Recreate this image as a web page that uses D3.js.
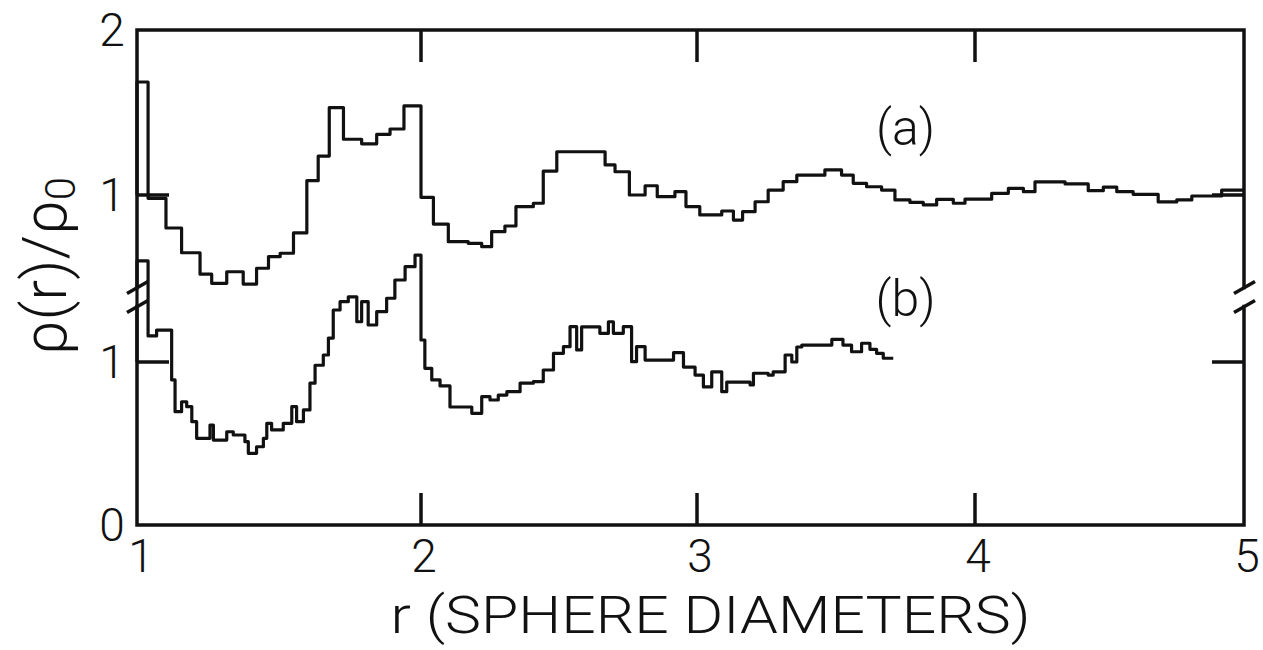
<!DOCTYPE html>
<html>
<head>
<meta charset="utf-8">
<script src="https://cdn.jsdelivr.net/npm/d3@7"></script>
<style>
  html, body { margin: 0; padding: 0; background: #fff; }
  svg { display: block; }
  text { font-family: "Roboto", "DejaVu Sans", sans-serif; font-weight: 300; fill: #111; }
</style>
</head>
<body>
<svg id="chart" width="1263" height="650"></svg>
<script>
// Histogram (a): start of each r bin (sphere diameters) and rho(r)/rho0 in that bin
const rA = [1.0, 1.039, 1.102, 1.157, 1.222, 1.263, 1.316, 1.374, 1.421, 1.463, 1.504, 1.551,
  1.598, 1.638, 1.677, 1.727, 1.791, 1.844, 1.891, 1.940, 2.0, 2.045, 2.099, 2.171, 2.22,
  2.256, 2.304, 2.344, 2.407, 2.443, 2.492, 2.667, 2.703, 2.755, 2.812, 2.856, 2.92, 2.96,
  3.01, 3.089, 3.131, 3.164, 3.209, 3.256, 3.31, 3.359, 3.46, 3.52, 3.562, 3.61, 3.664,
  3.712, 3.766, 3.814, 3.862, 3.922, 3.964, 4.062, 4.124, 4.18, 4.223, 4.335, 4.421, 4.477,
  4.527, 4.588, 4.681, 4.75, 4.806, 4.917];
const gA = [1.685, 0.98, 0.80, 0.65, 0.52, 0.465, 0.535, 0.46, 0.556, 0.626, 0.647, 0.77,
  1.087, 1.236, 1.53, 1.338, 1.31, 1.368, 1.40, 1.54, 0.986, 0.824, 0.717, 0.707, 0.687,
  0.778, 0.812, 0.929, 0.95, 1.145, 1.262, 1.182, 1.141, 1.0, 1.056, 0.99, 1.02, 0.93,
  0.879, 0.903, 0.848, 0.899, 0.959, 1.03, 1.081, 1.12, 1.152, 1.121, 1.071, 1.05, 1.03,
  0.97, 0.955, 0.94, 0.974, 0.95, 0.975, 1.01, 1.04, 1.02, 1.079, 1.067, 1.026, 1.048,
  1.02, 1.004, 0.958, 0.97, 0.994, 1.03];
const rAEnd = 5.0;

// Histogram (b): finer bins, ending near r = 3.7
const rB = [1.0, 1.039, 1.069, 1.122, 1.134, 1.157, 1.175, 1.193, 1.21, 1.257, 1.269, 1.316,
  1.339, 1.380, 1.392, 1.421, 1.445, 1.457, 1.474, 1.515, 1.545, 1.562, 1.586, 1.609, 1.627,
  1.656, 1.674, 1.691, 1.715, 1.744, 1.774, 1.791, 1.814, 1.844, 1.879, 1.908, 1.944, 1.979,
  2.0, 2.014, 2.039, 2.069, 2.105, 2.184, 2.22, 2.25, 2.28, 2.311, 2.359, 2.407, 2.443,
  2.48, 2.516, 2.540, 2.564, 2.582, 2.648, 2.679, 2.697, 2.733, 2.763, 2.781, 2.812, 2.915,
  2.951, 2.993, 3.023, 3.053, 3.089, 3.107, 3.191, 3.203, 3.256, 3.274, 3.317, 3.341, 3.359,
  3.377, 3.485, 3.525, 3.556, 3.592, 3.622, 3.646, 3.67];
const gB = [1.62, 1.16, 1.196, 0.89, 0.695, 0.756, 0.726, 0.634, 0.532, 0.613, 0.521, 0.572,
  0.552, 0.511, 0.44, 0.48, 0.532, 0.624, 0.583, 0.624, 0.726, 0.634, 0.706, 0.87, 0.98,
  1.043, 1.147, 1.319, 1.37, 1.40, 1.247, 1.37, 1.227, 1.309, 1.391, 1.503, 1.585, 1.656,
  1.135, 0.961, 0.89, 0.853, 0.724, 0.685, 0.787, 0.767, 0.797, 0.818, 0.87, 0.879, 0.951,
  1.053, 1.094, 1.217, 1.074, 1.215, 1.176, 1.247, 1.176, 1.217, 1.002, 1.094, 1.012, 1.057,
  0.969, 0.92, 0.847, 0.94, 0.818, 0.877, 0.859, 0.931, 0.92, 0.94, 1.043, 1.0, 1.092,
  1.104, 1.139, 1.104, 1.063, 1.115, 1.078, 1.053, 1.023];
const rBEnd = 3.706;

const xTicks = [1, 2, 3, 4, 5];
const upperTicks = [1, 2];   // scale of curve (a)
const lowerTicks = [0, 1];   // scale of curve (b)
const seriesNames = ["(a)", "(b)"];
const xTitle = "r (SPHERE DIAMETERS)";

const svg = d3.select("#chart");
svg.append("rect").attr("width", 1263).attr("height", 650).attr("fill", "#fff");

// The hand-lettered axis is slightly uneven, so each unit gets its own span
const x = d3.scaleLinear().domain(xTicks).range([137, 421, 697, 975, 1244]);
const yA = d3.scaleLinear().domain([1, 2]).range([195, 30]);
const yB = d3.scaleLinear().domain([0, 1]).range([525, 362]);

const ink = "#111";
const xLeft = x(1), xRight = x(5), yTop = yA(2), yBottom = yB(0);
const gapTop = yA(0.44), gapBottom = yB(1.34);

// Frame with a break on both vertical sides
svg.append("path")
  .attr("d", `M${xLeft},${gapTop}V${yTop}H${xRight}V${gapTop}` +
             `M${xLeft},${gapBottom}V${yBottom}H${xRight}V${gapBottom}`)
  .attr("stroke", ink).attr("stroke-width", 3.5).attr("fill", "none")
  .attr("stroke-linecap", "square");

// Break marks
[xLeft, xRight].forEach(bx => {
  [gapTop, gapBottom].forEach(by => {
    svg.append("line")
      .attr("x1", bx - 10).attr("y1", by + 6)
      .attr("x2", bx + 11).attr("y2", by - 6)
      .attr("stroke", ink).attr("stroke-width", 3.5);
  });
});

// Inward ticks
const tickLen = 32;
const ticks = svg.append("g").attr("stroke", ink).attr("stroke-width", 3.5);
xTicks.slice(1, -1).forEach(t => {
  ticks.append("line").attr("x1", x(t)).attr("x2", x(t)).attr("y1", yTop).attr("y2", yTop + tickLen);
  ticks.append("line").attr("x1", x(t)).attr("x2", x(t)).attr("y1", yBottom).attr("y2", yBottom - tickLen);
});
[yA(1), yB(1)].forEach(ty => {
  ticks.append("line").attr("x1", xLeft).attr("x2", xLeft + tickLen).attr("y1", ty).attr("y2", ty);
  ticks.append("line").attr("x1", xRight).attr("x2", xRight - tickLen).attr("y1", ty).attr("y2", ty);
});

// Tick labels
const tickFont = 46;
svg.append("g").selectAll("text").data(xTicks).join("text")
  .attr("x", d => x(d) + (d === 1 ? 4 : 3)).attr("y", 572)
  .attr("text-anchor", "middle").attr("font-size", tickFont)
  .text(d => d);
const yLabels = upperTicks.map(v => ({ v, y: yA(v) }))
  .concat(lowerTicks.map(v => ({ v, y: yB(v) })));
svg.append("g").selectAll("text").data(yLabels).join("text")
  .attr("x", 112).attr("y", d => d.y + 16)
  .attr("text-anchor", "middle").attr("font-size", tickFont)
  .text(d => d.v);

// Step curves
const stepPoints = (rs, gs, rEnd) => {
  const pts = [[rs[0], 1]];
  rs.forEach((r, i) => pts.push([r, gs[i]]));
  pts.push([rEnd, gs[gs.length - 1]]);
  return pts;
};
const lineA = d3.line().x(d => x(d[0])).y(d => yA(d[1])).curve(d3.curveStepAfter);
const lineB = d3.line().x(d => x(d[0])).y(d => yB(d[1])).curve(d3.curveStepAfter);
svg.append("path").attr("d", lineA(stepPoints(rA, gA, rAEnd)))
  .attr("fill", "none").attr("stroke", ink).attr("stroke-width", 3.2)
  .attr("stroke-linejoin", "round");
svg.append("path").attr("d", lineB(stepPoints(rB, gB, rBEnd)))
  .attr("fill", "none").attr("stroke", ink).attr("stroke-width", 3.2)
  .attr("stroke-linejoin", "round");

// Curve labels
svg.append("text").attr("x", x(3.75)).attr("y", yA(1.4) + 16)
  .attr("text-anchor", "middle").attr("font-size", 50).text(seriesNames[0]);
svg.append("text").attr("x", x(3.75)).attr("y", yB(1.38) + 16)
  .attr("text-anchor", "middle").attr("font-size", 50).text(seriesNames[1]);

// Axis titles
svg.append("text").attr("x", (xLeft + xRight) / 2 + 20).attr("y", 633)
  .attr("text-anchor", "middle").attr("font-size", 52)
  .attr("textLength", 640).attr("lengthAdjust", "spacingAndGlyphs")
  .text(xTitle);
const yTitle = svg.append("text")
  .attr("transform", "translate(66,266) rotate(-90)")
  .attr("text-anchor", "middle").attr("font-size", 62);
yTitle.append("tspan").text("ρ(r)/ρ");
yTitle.append("tspan").attr("font-size", 42).attr("dy", 9).text("0");
</script>
</body>
</html>
